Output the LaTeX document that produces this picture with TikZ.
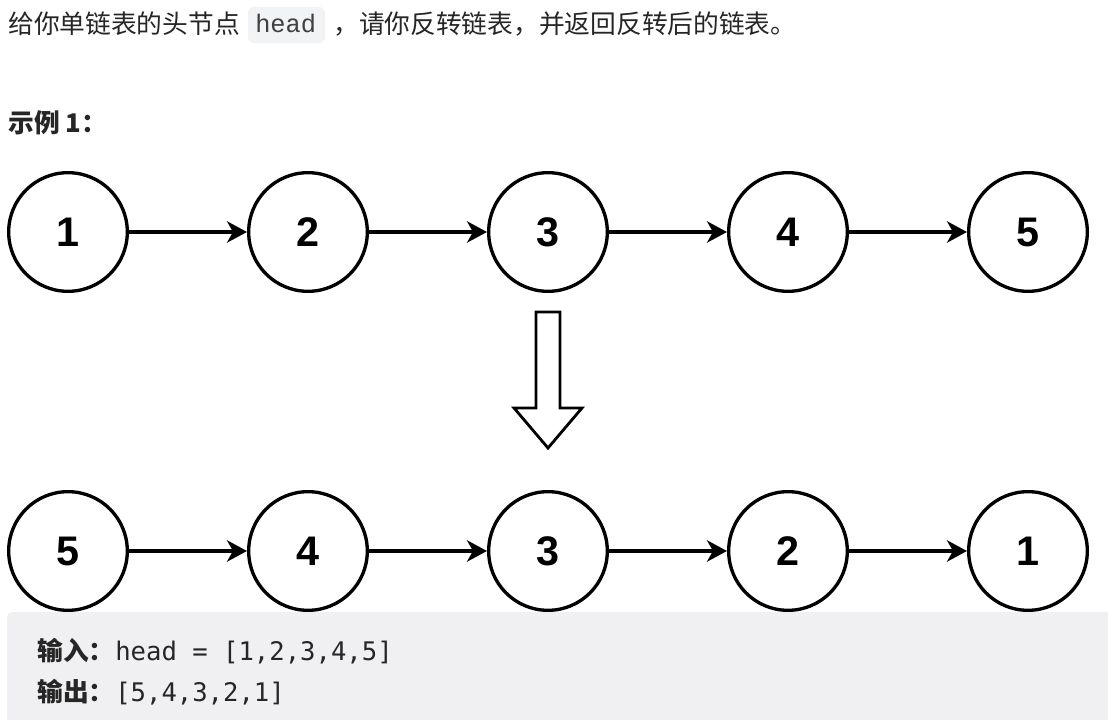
\documentclass[tikz,border=0pt]{standalone}
\usepackage{fontspec}
\setmainfont{Noto Sans CJK SC}
\newfontfamily\digitfont{Liberation Sans}
\newfontfamily\codefont{DejaVu Sans Mono}
\newfontfamily\inlinecode{Liberation Mono}
\usetikzlibrary{arrows.meta}
\definecolor{textc}{HTML}{262626}
\definecolor{codebg}{HTML}{F2F3F5}
\definecolor{boxbg}{HTML}{F0F0F2}
\begin{document}
\begin{tikzpicture}[x=0.75pt,y=-0.75pt,
  lnode/.style={circle,draw=black,line width=2.5pt,minimum size=89pt,inner sep=0pt,
    font=\digitfont\bfseries\fontsize{31}{31}\selectfont},
  link/.style={line width=2.5pt,-{Stealth[length=15pt,width=16pt,inset=4.5pt]}},
  txt/.style={inner sep=0pt,anchor=base west,text=textc,font=\fontsize{19.3}{22}\selectfont},
  codetxt/.style={inner sep=0pt,anchor=base west,text=textc,font=\codefont\fontsize{19.2}{22}\selectfont}]
\useasboundingbox (0,0) rectangle (1108,720);
\fill[white] (0,0) rectangle (1108,720);
% top text
\node[txt] (t1) at (8,34) {给你单链表的头节点};
\fill[codebg,rounded corners=4.5pt] (248,7) rectangle (325,43);
\node[codetxt,font=\inlinecode\fontsize{19}{20}\selectfont,text=black!75] (code) at (255,33) {head};
\node[txt] (t2) at (333,34) {，请你反转链表，并返回反转后的链表。};
\node[txt,font=\bfseries\fontsize{19.3}{22}\selectfont] (ex) at (8,133) {示例 1：};
% top list
\foreach \i/\v in {0/1,1/2,2/3,3/4,4/5}{
  \node[lnode] (a\i) at (68+240*\i,232) {\v};
}
\foreach \i/\j in {0/1,1/2,2/3,3/4}{
  \draw[link] (a\i) -- (a\j);
}
% hollow arrow
\draw[line width=2.1pt,line join=miter,fill=white]
  (536,312) -- (560,312) -- (560,408) -- (582,408) -- (548,448) -- (514,408) -- (536,408) -- cycle;
% bottom list
\foreach \i/\v in {0/5,1/4,2/3,3/2,4/1}{
  \node[lnode] (b\i) at (68+240*\i,551) {\v};
}
\foreach \i/\j in {0/1,1/2,2/3,3/4}{
  \draw[link] (b\i) -- (b\j);
}
% example box
\fill[boxbg,rounded corners=4pt] (7,612) rectangle (1130,740);
\node[txt,font=\bfseries\fontsize{19.3}{22}\selectfont] (in) at (37,660) {输入：};
\node[codetxt] (inv) at (115,660) {head = [1,2,3,4,5]};
\node[txt,font=\bfseries\fontsize{19.3}{22}\selectfont] (out) at (37,701) {输出：};
\node[codetxt] (outv) at (115,701) {[5,4,3,2,1]};
\end{tikzpicture}
\end{document}
